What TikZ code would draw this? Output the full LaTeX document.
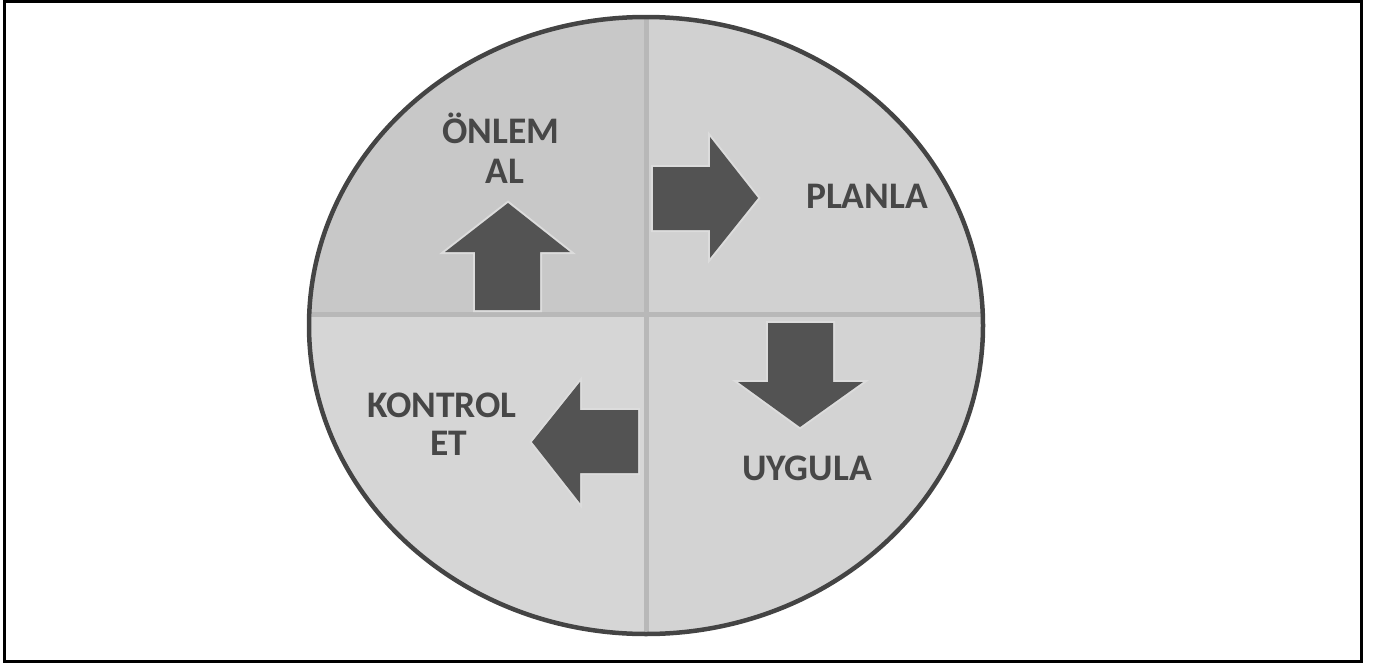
\documentclass[tikz,border=0pt]{standalone}
\usepackage{fontspec}
\setmainfont{Carlito}
\definecolor{tlcol}{HTML}{C8C8C8}
\definecolor{trcol}{HTML}{D1D1D1}
\definecolor{blcol}{HTML}{D6D6D6}
\definecolor{brcol}{HTML}{D3D3D3}
\definecolor{divcol}{HTML}{B8B8B8}
\definecolor{arrowcol}{HTML}{535353}
\definecolor{glowcol}{HTML}{DCDCDC}
\definecolor{textcol}{HTML}{474747}
\definecolor{rimcol}{HTML}{444444}
\begin{document}
\begin{tikzpicture}[x=1pt,y=-1pt,
  divider/.style={draw=divcol, line width=5pt},
  rim/.style={draw=rimcol, line width=4.5pt},
  frame/.style={draw=black, line width=3pt},
  arrowshape/.style={fill=arrowcol, preaction={draw=glowcol, line width=4pt, line join=miter}},
  lbl/.style={font=\bfseries\fontsize{37.5}{42}\selectfont, text=textcol, anchor=base, inner sep=0pt}]
\useasboundingbox (0,0) rectangle (1374,664);
\coordinate (ctr) at (646,314);
\begin{scope}
  \clip (646,325.5) ellipse [x radius=337, y radius=308.5];
  \fill[tlcol] (ctr) rectangle (300,0);
  \fill[trcol] (ctr) rectangle (1000,0);
  \fill[blcol] (ctr) rectangle (300,664);
  \fill[brcol] (ctr) rectangle (1000,664);
  \draw[divider] (646,0) -- (646,664);
  \draw[divider] (300,314) -- (1000,314);
\end{scope}
\draw[rim] (646,325.5) ellipse [x radius=337, y radius=308.5];
\draw[frame] (4.5,1.5) rectangle (1361,661);
% arrows
\fill[arrowshape] (475,310) -- (475,252) -- (445,252) -- (508,203) -- (570,252) -- (540,252) -- (540,310) -- cycle;
\fill[arrowshape] (653,167) -- (710,167) -- (710,137) -- (758,198) -- (710,258) -- (710,230) -- (653,230) -- cycle;
\fill[arrowshape] (768,323) -- (833,323) -- (833,382) -- (863,382) -- (800,427) -- (738,382) -- (768,382) -- cycle;
\fill[arrowshape] (638,410) -- (580,410) -- (580,382) -- (532,442) -- (580,503) -- (580,473) -- (638,473) -- cycle;
% labels
\node[lbl] (onlem) at (501,143) {ÖNLEM};
\node[lbl] (al) at (505,183) {AL};
\node[lbl] (planla) at (867,208) {PLANLA};
\node[lbl] (kontrol) at (442,417) {KONTROL};
\node[lbl] (et) at (449,455) {ET};
\node[lbl] (uygula) at (807,480) {UYGULA};
\end{tikzpicture}
\end{document}
